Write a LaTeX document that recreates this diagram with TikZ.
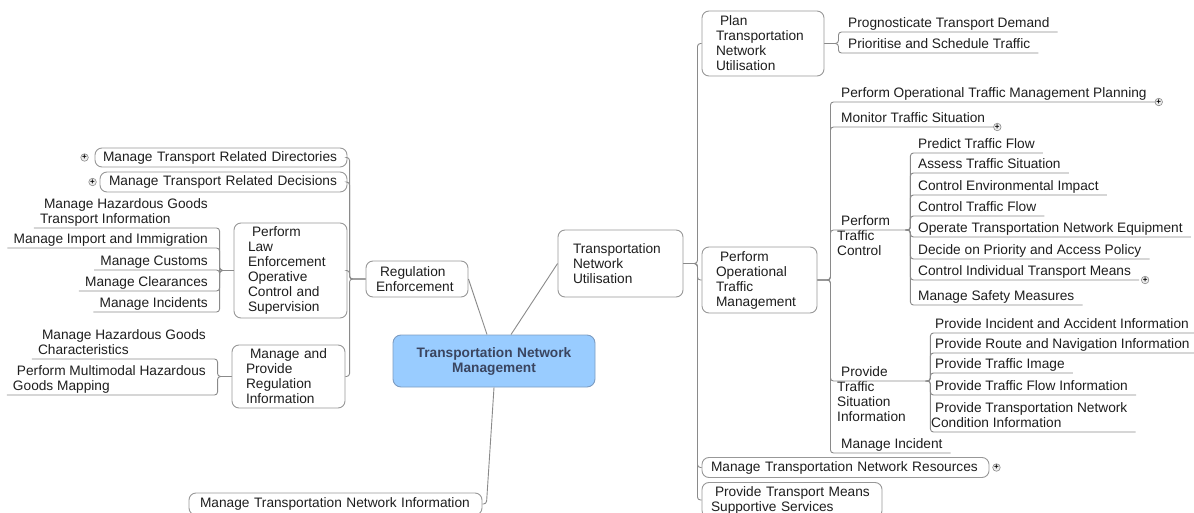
\documentclass[tikz,border=0pt]{standalone}
\usepackage{fontspec}
\setmainfont{Liberation Sans}
\definecolor{linegray}{HTML}{8A8A8A}
\definecolor{boxgray}{HTML}{989898}
\definecolor{rootfill}{HTML}{99CCFF}
\definecolor{rootdraw}{HTML}{7C9CC2}
\definecolor{roottext}{HTML}{3A4560}
\definecolor{txt}{HTML}{1E1E1E}
\definecolor{morefill}{HTML}{EEEEEE}
\newcommand{\fli}{\hspace*{4pt}}

\begin{document}
\begin{tikzpicture}[x=1pt, y=-1pt,
        every node/.style={font=\fontsize{13.7}{15}\selectfont, text=txt},
        topic/.style={draw=boxgray, fill=white, rounded corners=7pt, align=left,
                      inner ysep=2pt, line width=0.9pt},
        root/.style={draw=rootdraw, fill=rootfill, rounded corners=8pt, align=center,
                     font=\fontsize{13.7}{15}\selectfont\bfseries, text=roottext,
                     line width=0.9pt},
        leafr/.style={anchor=south west, align=left, inner xsep=8pt, inner ysep=1pt,
                      text depth=3pt},
        leafl/.style={anchor=south east, align=left, inner xsep=6pt, inner ysep=1pt,
                      text depth=3pt},
        link/.style={draw=linegray, line width=0.9pt, rounded corners=3pt},
        more/.style={circle, draw=linegray, fill=morefill, minimum size=7.5pt, inner sep=0pt,
                     line width=0.6pt, text=black, font=\fontsize{8}{8}\selectfont\bfseries}]

                \useasboundingbox (0, 0) rectangle (1194, 513);

                \node[root, text width=180pt, inner xsep=11pt, minimum height=52pt]
                    (root) at (494, 361) {Transportation Network\\Management};

                \node[topic, text width=82pt, inner xsep=10pt, minimum height=36pt]
                    (re) at (417, 279) {\fli Regulation\\Enforcement};
                \node[topic, text width=236pt, inner xsep=8pt, minimum height=19pt]
                    (mtrd) at (221, 157.5) {Manage Transport Related Directories};
                \node[topic, text width=229pt, inner xsep=9pt, minimum height=20pt]
                    (mtrdec) at (223.5, 182) {Manage Transport Related Decisions};
                \node[topic, text width=85pt, inner xsep=14pt, minimum height=95pt]
                    (pleocs) at (290.5, 270.5)
                    {\fli Perform\\Law\\Enforcement\\Operative\\Control and\\Supervision};
                \node[topic, text width=85pt, inner xsep=14pt, minimum height=63pt]
                    (mpri) at (288.5, 376.5) {\fli Manage and\\Provide\\Regulation\\Information};

                \node[leafl] (mhgti) at (214, 228) {\fli Manage Hazardous Goods\\Transport Information};
                \node[leafl] (mii) at (214, 248) {Manage Import and Immigration};
                \node[leafl] (mc) at (214, 270) {Manage Customs};
                \node[leafl] (mcl) at (214, 291) {Manage Clearances};
                \node[leafl] (minc) at (214, 312) {Manage Incidents};
                \node[leafl] (mhgc) at (212, 359) {\fli Manage Hazardous Goods\\Characteristics};
                \node[leafl] (pmhgm) at (212, 395) {\fli Perform Multimodal Hazardous\\Goods Mapping};

                \node[topic, text width=95pt, inner xsep=15pt, minimum height=67pt]
                    (tnu) at (620.5, 263.5) {Transportation\\Network\\Utilisation};
                \node[topic, text width=94pt, inner xsep=14pt, minimum height=65pt]
                    (plan) at (763, 43.5) {\fli Plan\\Transportation\\Network\\Utilisation};
                \node[topic, text width=87pt, inner xsep=14pt, minimum height=66pt]
                    (potm) at (759.5, 280) {\fli Perform\\Operational\\Traffic\\Management};
                \node[topic, text width=269pt, inner xsep=9pt, minimum height=20pt]
                    (mtnr) at (845.5, 467.5) {Manage Transportation Network Resources};
                \node[topic, text width=162pt, inner xsep=9pt, minimum height=35pt]
                    (ptmss) at (792, 500) {\fli Provide Transport Means\\Supportive Services};
                \node[topic, text width=271pt, inner xsep=11pt, minimum height=22pt]
                    (mtni) at (335.5, 504) {Manage Transportation Network Information};

                \node[leafr] (prog) at (840, 32) {Prognosticate Transport Demand};
                \node[leafr] (prio) at (840, 53) {Prioritise and Schedule Traffic};

                \node[leafr] (potmp) at (833, 102) {Perform Operational Traffic Management Planning};
                \node[leafr] (mts) at (833, 127) {Monitor Traffic Situation};
                \node[leafr, inner xsep=5pt, text width=66pt]
                    (ptc) at (832, 230) {\fli Perform\\Traffic\\Control};
                \node[leafr, inner xsep=5pt, text width=86pt]
                    (ptsi) at (832, 381) {\fli Provide\\Traffic\\Situation\\Information};
                \node[leafr] (mi) at (833, 453) {Manage Incident};

                \node[leafr] (ptf) at (910, 153) {Predict Traffic Flow};
                \node[leafr] (ats) at (910, 173) {Assess Traffic Situation};
                \node[leafr] (cei) at (910, 195) {Control Environmental Impact};
                \node[leafr] (ctf) at (910, 216) {Control Traffic Flow};
                \node[leafr] (otne) at (910, 237) {Operate Transportation Network Equipment};
                \node[leafr] (dpap) at (910, 259) {Decide on Priority and Access Policy};
                \node[leafr] (citm) at (910, 280) {Control Individual Transport Means};
                \node[leafr] (msm) at (910, 305) {Manage Safety Measures};

                \node[leafr] (piai) at (927, 333) {Provide Incident and Accident Information};
                \node[leafr] (prni) at (927, 353) {Provide Route and Navigation Information};
                \node[leafr] (pti) at (927, 373) {Provide Traffic Image};
                \node[leafr] (ptfi) at (927, 395) {Provide Traffic Flow Information};
                \node[leafr] (ptnci) at (923, 432) {\fli Provide Transportation Network\\Condition Information};

                \coordinate (re-bus) at ([xshift=-16pt]re.west);
                \coordinate (pleocs-bus) at ([xshift=-14pt]pleocs.west);
                \coordinate (mpri-bus) at ([xshift=-14pt]mpri.west);
                \coordinate (tnu-bus) at ([xshift=14pt]tnu.east);
                \coordinate (plan-bus) at ([xshift=14pt]plan.east);
                \coordinate (potm-bus) at ([xshift=13pt]potm.east);
                \coordinate (ptc-bus) at ([xshift=2pt]ptc.south east);
                \coordinate (ptsi-bus) at ([xshift=2pt]ptsi.south east);

                \draw[link] (re.east) -- ([xshift=-7pt]root.north);
                \draw[link] ([xshift=17pt]root.north) -- (tnu.west);
                \draw[link] (root.south) -- ([xshift=4pt]mtni.east) -- (mtni.east);

                \foreach \n in {mtrd, mtrdec, pleocs, mpri}
                    \draw[link] (re.west) -- (re-bus) |- (\n.east);
                \foreach \n in {mhgti, mii, mc, mcl, minc}
                    \draw[link] (pleocs.west) -- (pleocs-bus) |- (\n.south west);
                \foreach \n in {mhgc, pmhgm}
                    \draw[link] (mpri.west) -- (mpri-bus) |- (\n.south west);
                \foreach \n in {plan, potm, mtnr, ptmss}
                    \draw[link] (tnu.east) -- (tnu-bus) |- (\n.west);
                \foreach \n in {prog, prio}
                    \draw[link] (plan.east) -- (plan-bus) |- (\n.south east);
                \foreach \n in {potmp, mts, ptc, ptsi, mi}
                    \draw[link] (potm.east) -- (potm-bus) |- (\n.south east);
                \foreach \n in {ptf, ats, cei, ctf, otne, dpap, citm, msm}
                    \draw[link] (ptc.south east) -- (ptc-bus) |- (\n.south east);
                \foreach \n in {piai, prni, pti, ptfi, ptnci}
                    \draw[link] (ptsi.south east) -- (ptsi-bus) |- (\n.south east);

                \node[more] (mtrd-more) at ([xshift=-10pt]mtrd.west) {+};
                \node[more] (mtrdec-more) at ([xshift=-7pt]mtrdec.west) {+};
                \node[more] (potmp-more) at ([xshift=4pt]potmp.south east) {+};
                \node[more] (mts-more) at ([xshift=4pt]mts.south east) {+};
                \node[more] (citm-more) at ([xshift=6pt]citm.south east) {+};
                \node[more] (mtnr-more) at ([xshift=7pt]mtnr.east) {+};
            \end{tikzpicture}
\end{document}
